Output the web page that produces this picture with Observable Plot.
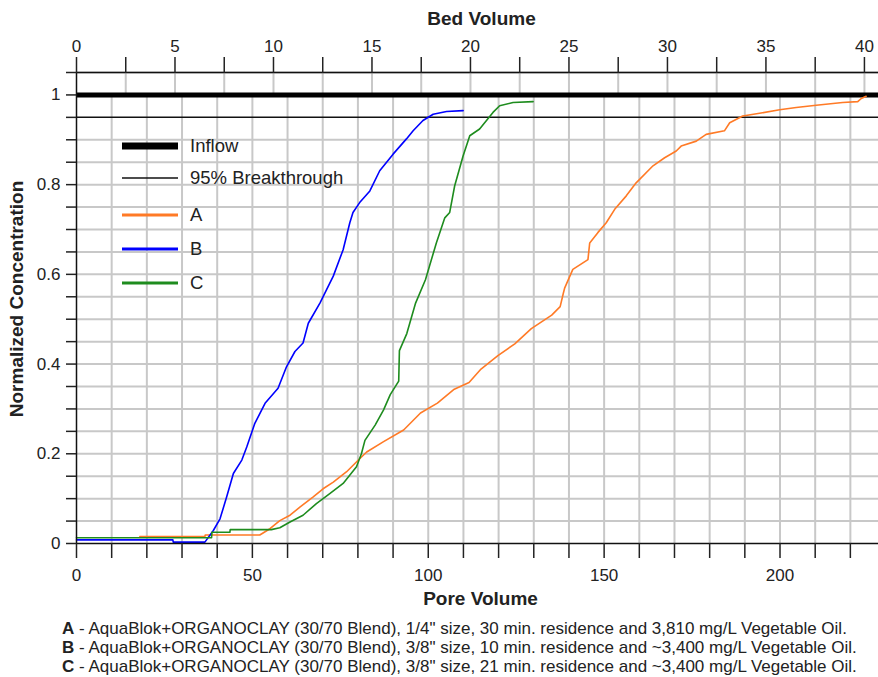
<!DOCTYPE html>
<html><head><meta charset="utf-8">
<script src="https://cdn.jsdelivr.net/npm/d3@7"></script>
<script src="https://cdn.jsdelivr.net/npm/@observablehq/plot@0.6"></script>
<style>
body{margin:0;background:#fff;}
#wrap{position:relative;width:878px;height:677px;font-family:"Liberation Sans",Arial,sans-serif;color:#222;overflow:hidden;}
#caption{position:absolute;left:62px;top:619px;font-size:17px;line-height:19px;white-space:nowrap;}
#legend{position:absolute;left:0;top:0;}
</style></head><body><div id="wrap"></div><script>
// ---- data ----
const seriesNames = ["A", "B", "C"];
const seriesColors = ["#ff7a26", "#0000ff", "#1e8c1e"];

const aPore = [18, 36.5, 36.6, 52.1, 55, 57.8, 60.7, 63.5, 67.3, 70.1, 73, 76.8, 80.5, 82.5, 87.3, 93, 97.8, 102.6, 107.4, 111.6, 115, 119.8, 124.6, 129.3, 135.1, 137.5, 138.4, 138.8, 141.1, 145.4, 145.9, 148.2, 150.6, 153, 156.3, 159.1, 163.9, 167.2, 170.5, 171.9, 176.2, 179, 184.2, 185.7, 189.4, 194.2, 199.9, 204.6, 210.3, 217.8, 222.1, 223.1, 224.5];
const aConc = [0.0157, 0.0157, 0.019, 0.019, 0.033, 0.051, 0.063, 0.081, 0.104, 0.122, 0.137, 0.16, 0.189, 0.204, 0.227, 0.253, 0.291, 0.313, 0.344, 0.359, 0.389, 0.419, 0.445, 0.479, 0.509, 0.528, 0.558, 0.570, 0.611, 0.633, 0.670, 0.693, 0.715, 0.745, 0.775, 0.804, 0.842, 0.86, 0.875, 0.886, 0.897, 0.912, 0.92, 0.938, 0.953, 0.959, 0.967, 0.972, 0.977, 0.983, 0.985, 0.992, 0.997];

const bPore = [0, 27.4, 27.5, 36.5, 38.9, 40.8, 42.7, 44.6, 47, 48.4, 50.7, 53.6, 57.3, 59.7, 62.1, 64.4, 65.9, 69.2, 71.1, 73, 75.8, 77.7, 78.6, 80.5, 83.4, 86.2, 90, 93.8, 95.7, 98.5, 101.4, 105.2, 109.9];
const bConc = [0.008, 0.008, 0.003, 0.003, 0.029, 0.055, 0.104, 0.156, 0.186, 0.215, 0.268, 0.3125, 0.346, 0.394, 0.428, 0.447, 0.491, 0.536, 0.566, 0.596, 0.655, 0.715, 0.738, 0.76, 0.786, 0.831, 0.868, 0.902, 0.92, 0.943, 0.957, 0.963, 0.965];

const cPore = [0, 38.4, 38.5, 43.6, 43.7, 55.4, 57.8, 60.7, 64.4, 68.2, 72, 75.8, 79.6, 81, 82, 84.9, 87.3, 89.2, 91.6, 91.8, 93.9, 96.4, 99.2, 102.3, 104.7, 106.1, 107.5, 109.9, 111.8, 114.6, 118.4, 120.3, 124.1, 129.8];
const cConc = [0.0128, 0.0128, 0.025, 0.025, 0.031, 0.031, 0.035, 0.048, 0.063, 0.089, 0.111, 0.134, 0.171, 0.2, 0.23, 0.264, 0.298, 0.332, 0.362, 0.43, 0.468, 0.536, 0.588, 0.67, 0.726, 0.738, 0.797, 0.864, 0.909, 0.924, 0.961, 0.976, 0.983, 0.985];

const inflowLevel = 1;
const breakthroughLevel = 0.95;
const pvPerBv = 5.6; // pore volumes per bed volume

const poreTicks = [0,10,20,30,40,50,60,70,80,90,100,110,120,130,140,150,160,170,180,190,200,210,220];
const poreLabels = [0,50,100,150,200];
const bedTicks = [0,2.5,5,7.5,10,12.5,15,17.5,20,22.5,25,27.5,30,32.5,35,37.5,40];
const bedLabels = [0,5,10,15,20,25,30,35,40];
const concTicks = [0,0.05,0.1,0.15,0.2,0.25,0.3,0.35,0.4,0.45,0.5,0.55,0.6,0.65,0.7,0.75,0.8,0.85,0.9,0.95,1,1.05];
const concLabels = [0,0.2,0.4,0.6,0.8,1];

const captionLines = [
  ["A", " - AquaBlok+ORGANOCLAY (30/70 Blend), 1/4\" size, 30 min. residence and 3,810 mg/L Vegetable Oil."],
  ["B", " - AquaBlok+ORGANOCLAY (30/70 Blend), 3/8\" size, 10 min. residence and ~3,400 mg/L Vegetable Oil."],
  ["C", " - AquaBlok+ORGANOCLAY (30/70 Blend), 3/8\" size, 21 min. residence and ~3,400 mg/L Vegetable Oil."]
];

// ---- build rows ----
const rows = [];
[[aPore, aConc], [bPore, bConc], [cPore, cConc]].forEach(([p, c], k) => {
  p.forEach((v, i) => rows.push({series: seriesNames[k], pore: v, conc: c[i]}));
});

const grid = "#c8c8c8";
const chart = Plot.plot({
  width: 878, height: 610,
  marginTop: 72, marginLeft: 76, marginRight: 0, marginBottom: 67,
  style: {fontFamily: "Liberation Sans, Arial, sans-serif", fontSize: "17px", color: "#222", background: "white", overflow: "visible"},
  x: {domain: [0, 228]},
  y: {domain: [0, 1.05]},
  color: {domain: seriesNames, range: seriesColors},
  marks: [
    Plot.ruleY(concTicks.filter(d => d > 0 && d !== inflowLevel && d !== breakthroughLevel), {stroke: grid, strokeWidth: 2}),
    Plot.ruleX(poreTicks.filter(d => d > 0), {y1: 0, y2: inflowLevel, stroke: grid, strokeWidth: 2}),
    Plot.ruleX(bedTicks.filter(d => d > 0).map(b => b * pvPerBv), {y1: inflowLevel, y2: 1.05, stroke: grid, strokeWidth: 2}),
    Plot.ruleY([breakthroughLevel], {stroke: "#111", strokeWidth: 1.5}),
    Plot.ruleY([inflowLevel], {stroke: "#000", strokeWidth: 5}),
    Plot.line(rows, {x: "pore", y: "conc", z: "series", stroke: "series", strokeWidth: 1.6}),
    Plot.ruleY([0, 1.05], {stroke: "#111", strokeWidth: 1.5}),
    Plot.ruleX([0], {stroke: "#111", strokeWidth: 1.5}),
    Plot.axisX(poreTicks, {anchor: "bottom", tickSize: 15, tickPadding: 10, strokeWidth: 1.5, label: null,
      tickFormat: d => poreLabels.includes(d) ? String(d) : ""}),
    Plot.axisX(bedTicks.map(b => b * pvPerBv), {anchor: "top", tickSize: 16, tickPadding: 5, strokeWidth: 1.5, label: null,
      tickFormat: d => { const b = Math.round(d / pvPerBv * 10) / 10; return bedLabels.includes(b) ? String(b) : ""; }}),
    Plot.axisY(concTicks, {anchor: "left", tickSize: 10, tickPadding: 6, strokeWidth: 1.5, label: null,
      tickFormat: d => { const v = Math.round(d * 100) / 100; return concLabels.includes(v) ? String(v) : ""; }}),
    Plot.text(["Bed Volume"], {text: d => d, frameAnchor: "top", lineAnchor: "middle", dx: 4, dy: -54, fontWeight: "bold", fontSize: 19}),
    Plot.text(["Pore Volume"], {text: d => d, frameAnchor: "bottom", lineAnchor: "middle", dx: 3, dy: 55, fontWeight: "bold", fontSize: 19}),
    Plot.text(["Normalized Concentration"], {text: d => d, frameAnchor: "left", textAnchor: "middle", lineAnchor: "middle", rotate: -90, dx: -60, dy: -9, fontWeight: "bold", fontSize: 19})
  ]
});

const wrap = document.getElementById("wrap");
wrap.appendChild(chart);

// ---- legend overlay ----
const legendItems = [
  {label: "Inflow", color: "#000", width: 7},
  {label: "95% Breakthrough", color: "#111", width: 1.5},
  {label: seriesNames[0], color: seriesColors[0], width: 3},
  {label: seriesNames[1], color: seriesColors[1], width: 3},
  {label: seriesNames[2], color: seriesColors[2], width: 3}
];
const legendY = [146, 178, 215, 249, 283];
const lg = d3.select(wrap).append("svg").attr("id", "legend").attr("width", 878).attr("height", 610);
legendItems.forEach((it, i) => {
  lg.append("line").attr("x1", 122).attr("x2", 178).attr("y1", legendY[i]).attr("y2", legendY[i])
    .attr("stroke", it.color).attr("stroke-width", it.width);
  lg.append("text").attr("x", 190).attr("y", legendY[i]).attr("dy", "0.35em")
    .attr("font-family", "Liberation Sans, Arial, sans-serif").attr("font-size", 18.5).attr("fill", "#222").text(it.label);
});

// ---- caption ----
const cap = d3.select(wrap).append("div").attr("id", "caption");
captionLines.forEach(([k, t]) => {
  const line = cap.append("div");
  line.append("b").text(k);
  line.append("span").text(t);
});
</script></body></html>
